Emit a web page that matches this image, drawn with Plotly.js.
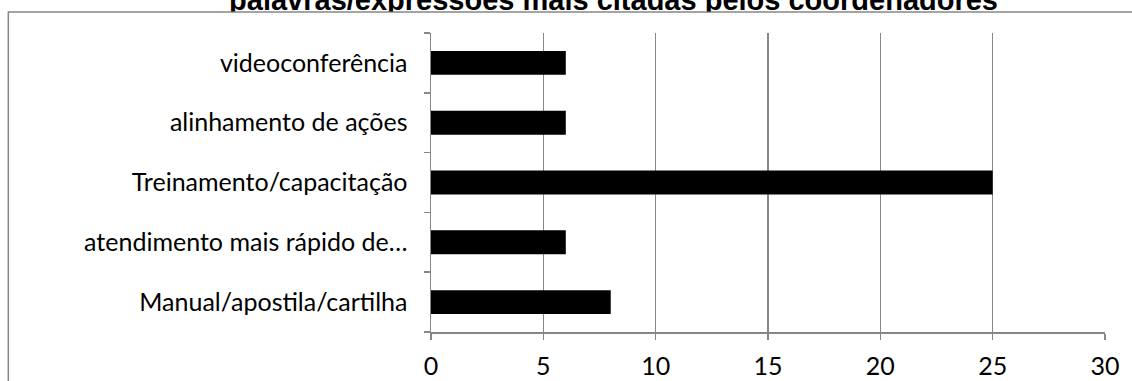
<!DOCTYPE html>
<html>
<head>
<meta charset="utf-8">
<script src="https://cdn.plot.ly/plotly-3.0.1.min.js"></script>
<style>
  html, body { margin: 0; padding: 0; background: #fff; }
  #chart { width: 1132px; height: 381px; }
  /* the heading sits behind the top edge of the chart frame */
  .gtitle { clip-path: url(#title-clip); }
</style>
</head>
<body>
<svg width="0" height="0" style="position:absolute">
  <clipPath id="title-clip" clipPathUnits="userSpaceOnUse">
    <rect x="0" y="0" width="1132" height="11.5"></rect>
  </clipPath>
</svg>
<div id="chart"></div>
<script>
// categories listed bottom to top, as they are stacked on the axis
const categories = [
  "Manual/apostila/cartilha",
  "atendimento mais rápido de…",
  "Treinamento/capacitação",
  "alinhamento de ações",
  "videoconferência"
];
const mentions = [8, 6, 25, 6, 6];
const xTickValues = [0, 5, 10, 15, 20, 25, 30];
const chartTitle = "palavras/expressões mais citadas pelos coordenadores";

const gridGray = "#878787";
const labelFont = { family: "Lato, 'Noto Sans', sans-serif", size: 25, color: "#000" };

const data = [{
  type: "bar",
  orientation: "h",
  y: categories,
  x: mentions,
  width: 0.4,
  marker: { color: "#000", line: { width: 0 } },
  hoverinfo: "skip"
}];

const layout = {
  width: 1132,
  height: 381,
  margin: { l: 431, r: 26.5, t: 33, b: 49, pad: 0 },
  paper_bgcolor: "#fff",
  plot_bgcolor: "#fff",
  showlegend: false,
  title: {
    text: chartTitle,
    font: { family: "'Liberation Sans', Arial, sans-serif", size: 29, color: "#000", weight: "bold" },
    xref: "container", x: 0.542, xanchor: "center",
    yref: "container", y: 1, yanchor: "middle"
  },
  xaxis: {
    range: [0, 30],
    tickvals: xTickValues,
    ticktext: xTickValues.map(String),
    showgrid: true, gridcolor: gridGray, gridwidth: 1.5,
    zeroline: false,
    showline: true, linecolor: gridGray, linewidth: 1.5,
    ticks: "outside", ticklen: 6, tickcolor: gridGray, tickwidth: 1.5,
    ticklabelstandoff: 5,
    tickfont: labelFont,
    fixedrange: true
  },
  yaxis: {
    type: "category",
    categoryorder: "array",
    categoryarray: categories,
    range: [-0.5, categories.length - 0.5],
    showgrid: false, zeroline: false,
    showline: true, linecolor: gridGray, linewidth: 1.5,
    ticks: "outside", tickson: "boundaries", ticklen: 6, tickcolor: gridGray, tickwidth: 1.5,
    ticklabelstandoff: 17,
    tickfont: labelFont,
    fixedrange: true
  },
  shapes: [{
    // outer chart frame, its right and bottom edges run past the page
    type: "rect", xref: "paper", yref: "paper",
    x0: -0.6271, x1: 1.06, y0: -0.2, y1: 1.0702,
    line: { color: gridGray, width: 1.5 },
    fillcolor: "rgba(0,0,0,0)",
    layer: "below"
  }]
};

Plotly.newPlot("chart", data, layout, { staticPlot: true, displayModeBar: false });
</script>
</body>
</html>
